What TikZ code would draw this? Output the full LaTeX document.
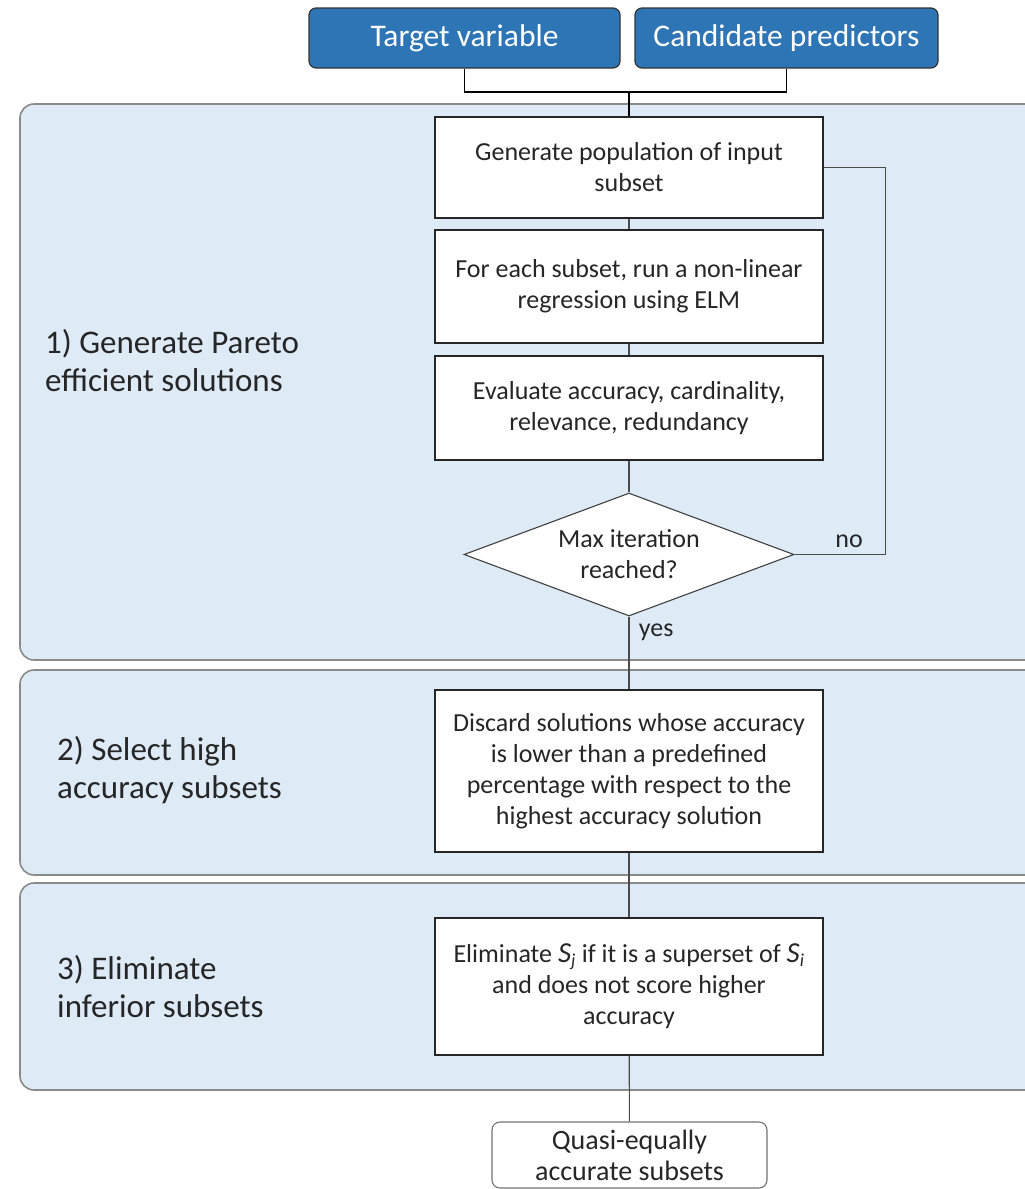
\documentclass[tikz,border=0pt]{standalone}
\usepackage{fontspec}
\setmainfont{Carlito}
\usetikzlibrary{shapes.geometric,positioning}

\definecolor{inblue}{HTML}{2E75B6}
\definecolor{panelblue}{HTML}{DEEAF6}
\definecolor{panelline}{HTML}{8A8A8A}
\definecolor{textdark}{HTML}{262626}

\newcommand{\subsetvar}[1]{{\fontsize{29}{31}\selectfont\itshape S}\textsubscript{\itshape #1}}

\tikzset{
	inbox/.style={draw=black!80, fill=inblue, rounded corners=7pt, text=white, line width=1.2pt,
		minimum width=311pt, minimum height=60pt, font=\fontsize{31.5}{34}\selectfont},
	stepbox/.style={draw=black!85, fill=white, line width=1.3pt, minimum width=388pt, inner sep=2pt,
		align=center, text=textdark, font=\fontsize{26}{31}\selectfont},
	decision/.style={diamond, draw=black!75, fill=white, line width=1.1pt, aspect=2.68, inner sep=0pt,
		minimum width=330pt, minimum height=123pt, align=center, text=textdark,
		font=\fontsize{26}{31}\selectfont},
	outbox/.style={draw=black!55, fill=white, rounded corners=8pt, line width=1.1pt, inner sep=1pt,
		minimum width=275pt, minimum height=66pt, align=center, text=textdark,
		font=\fontsize{28}{31}\selectfont},
	panel/.style={draw=panelline, fill=panelblue, line width=1.6pt, rounded corners=14pt},
	phase/.style={anchor=west, align=left, inner sep=0pt, text=textdark, font=\fontsize{33}{38}\selectfont},
	link/.style={draw=black!70, line width=1.1pt},
	answer/.style={text=textdark, font=\fontsize{26}{28}\selectfont}
}

\begin{document}
\begin{tikzpicture}[x=1pt,y=-1pt]
	\useasboundingbox (0,0) rectangle (1025,1189);
	\clip (0,0) rectangle (1025,1189);

	% phase panels
	\draw[panel] (20,104) rectangle (1070,660);
	\draw[panel] (20,670) rectangle (1070,875);
	\draw[panel] (20,883) rectangle (1070,1090);

	\node[phase] (p1) at (45,361) {1) Generate Pareto\\efficient solutions};
	\node[phase] (p2) at (57,770) {2) Select high\\accuracy subsets};
	\node[phase] (p3) at (57,987) {3) Eliminate\\inferior subsets};

	% inputs
	\node[inbox] (tv) at (464.5,38) {Target variable};
	\node[inbox, minimum width=303pt] (cp) at (786.5,38) {Candidate predictors};
	\coordinate (join) at (629,92);

	% steps
	\node[stepbox, minimum height=101pt] (gen) at (629,167.5) {Generate population of input\\subset};
	\node[stepbox, minimum height=113pt] (elm) at (629,286.5) {For each subset, run a non-linear\\regression using ELM};
	\node[stepbox, minimum height=104pt] (eval) at (629,408) {Evaluate accuracy, cardinality,\\relevance, redundancy};
	\node[decision] (maxit) at (629,554.5) {Max iteration\\reached?};
	\node[stepbox, minimum height=162pt] (discard) at (629,771) {Discard solutions whose accuracy\\is lower than a predefined\\percentage with respect to the\\highest accuracy solution};
	\node[stepbox, minimum height=137pt] (elim) at (629,986.5) {Eliminate \subsetvar{j} if it is a superset of \subsetvar{i}\\and does not score higher\\accuracy};
	\node[outbox] (quasi) at (629.5,1155) {Quasi-equally\\accurate subsets};

	% connectors
	\draw[black, line width=1.6pt] (tv.south) |- (join) -| (cp.south);
	\draw[black, line width=1.8pt] (join) -- (gen.north);
	\draw[link] (gen) -- (elm);
	\draw[link] (elm) -- (eval);
	\draw[link] (eval) -- (maxit);
	\draw[link] (maxit.east) -- ++(91,0) node[answer, pos=0.6, above=3pt] {no} |- (gen.east);
	\draw[link] (maxit.south) -- (discard.north) node[answer, pos=0.22, right=6pt] {yes};
	\draw[link] (discard) -- (elim);
	\draw[link] (elim) -- (quasi);
\end{tikzpicture}
\end{document}
